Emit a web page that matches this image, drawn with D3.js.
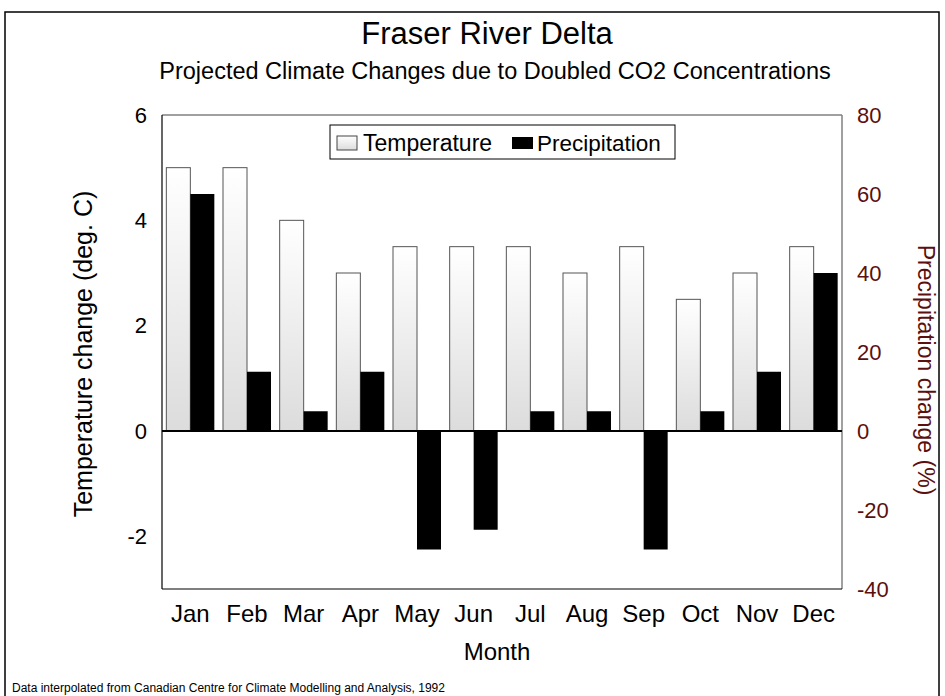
<!DOCTYPE html>
<html>
<head>
<meta charset="utf-8">
<script src="https://cdn.jsdelivr.net/npm/d3@7"></script>
<style>
  body { margin: 0; background: #fff; }
  text { font-family: "Liberation Sans", Arial, sans-serif; }
</style>
</head>
<body>
<div id="chart"></div>
<script>
// chart data
const months = ["Jan", "Feb", "Mar", "Apr", "May", "Jun", "Jul", "Aug", "Sep", "Oct", "Nov", "Dec"];
const temperature = [5, 5, 4, 3, 3.5, 3.5, 3.5, 3, 3.5, 2.5, 3, 3.5];
const precipitation = [60, 15, 5, 15, -30, -25, 5, 5, -30, 5, 15, 40];
const tempTicks = [-2, 0, 2, 4, 6];
const precipTicks = [-40, -20, 0, 20, 40, 60, 80];

const W = 945, H = 696;
const plot = {left: 162, right: 842, top: 115, bottom: 589};
const maroon = "#5c0f0f";
const fontFam = "Liberation Sans, Arial, sans-serif";

const svg = d3.select("#chart").append("svg")
    .attr("width", W)
    .attr("height", H);

// gradient for temperature bars
const grad = svg.append("defs").append("linearGradient")
    .attr("id", "tempGrad")
    .attr("x1", 0).attr("y1", 0).attr("x2", 0).attr("y2", 1);
grad.append("stop").attr("offset", "0%").attr("stop-color", "#ffffff");
grad.append("stop").attr("offset", "100%").attr("stop-color", "#dcdcdc");

// outer frame
svg.append("rect")
    .attr("x", 5).attr("y", 12)
    .attr("width", 934).attr("height", 700)
    .attr("fill", "none")
    .attr("stroke", "#000")
    .attr("stroke-width", 1.5);

//scales
const x = d3.scaleBand().domain(months).range([plot.left, plot.right]).paddingInner(0.153).paddingOuter(0.0765);
const yT = d3.scaleLinear().domain([-3, 6]).range([plot.bottom, plot.top]);
const yP = d3.scaleLinear().domain([-40, 80]).range([plot.bottom, plot.top]);
const bw = x.bandwidth() / 2;
const fmt = d => String(d); // plain hyphen for negatives

// plot border
svg.append("line").attr("x1", plot.left).attr("x2", plot.right).attr("y1", plot.top).attr("y2", plot.top)
    .attr("stroke", "#808080").attr("stroke-width", 1.5);
svg.append("line").attr("x1", plot.right).attr("x2", plot.right).attr("y1", plot.top).attr("y2", plot.bottom)
    .attr("stroke", "#808080").attr("stroke-width", 1.5);
svg.append("line").attr("x1", plot.left).attr("x2", plot.left).attr("y1", plot.top).attr("y2", plot.bottom)
    .attr("stroke", "#000").attr("stroke-width", 1.2);
svg.append("line").attr("x1", plot.left).attr("x2", plot.right).attr("y1", plot.bottom).attr("y2", plot.bottom)
    .attr("stroke", "#000").attr("stroke-width", 1.2);

// temperature bars
svg.selectAll(".temp")
    .data(temperature)
    .enter()
    .append("rect")
    .attr("class", "temp")
    .attr("x", (d, i) => x(months[i]))
    .attr("y", d => yT(Math.max(0, d)))
    .attr("width", bw)
    .attr("height", d => Math.abs(yT(d) - yT(0)))
    .attr("fill", "url(#tempGrad)")
    .attr("stroke", "#555")
    .attr("stroke-width", 1);

// precipitation bars
svg.selectAll(".precip")
    .data(precipitation)
    .enter()
    .append("rect")
    .attr("class", "precip")
    .attr("x", (d, i) => x(months[i]) + bw)
    .attr("y", d => yP(Math.max(0, d)))
    .attr("width", bw)
    .attr("height", d => Math.abs(yP(d) - yP(0)))
    .attr("fill", "#000");

// zero line
svg.append("line")
    .attr("x1", plot.left).attr("x2", plot.right)
    .attr("y1", yT(0)).attr("y2", yT(0))
    .attr("stroke", "#000").attr("stroke-width", 2);

// left axis
const leftAxis = svg.append("g")
    .attr("transform", "translate(" + plot.left + ",0)")
    .call(d3.axisLeft(yT).tickValues(tempTicks).tickFormat(fmt).tickSize(0).tickPadding(15));
leftAxis.select(".domain").remove();
leftAxis.selectAll("text").attr("font-size", 22).attr("fill", "#000").attr("font-family", fontFam);

// right axis
const rightAxis = svg.append("g")
    .attr("transform", "translate(" + plot.right + ",0)")
    .call(d3.axisRight(yP).tickValues(precipTicks).tickFormat(fmt).tickSize(0).tickPadding(15));
rightAxis.select(".domain").remove();
rightAxis.selectAll("text").attr("font-size", 22).attr("fill", maroon).attr("font-family", fontFam);

// month labels
const xAxis = svg.append("g")
    .attr("transform", "translate(0," + plot.bottom + ")")
    .call(d3.axisBottom(x).tickSize(0).tickPadding(16));
xAxis.select(".domain").remove();
xAxis.selectAll("text").attr("font-size", 24).attr("fill", "#000").attr("font-family", fontFam);

// titles
svg.append("text").attr("x", 487).attr("y", 44).attr("text-anchor", "middle")
    .attr("font-size", 31).text("Fraser River Delta");
svg.append("text").attr("x", 495).attr("y", 79).attr("text-anchor", "middle")
    .attr("font-size", 23.5).text("Projected Climate Changes due to Doubled CO2 Concentrations");
svg.append("text").attr("x", 497).attr("y", 660).attr("text-anchor", "middle")
    .attr("font-size", 24).text("Month");
svg.append("text").attr("transform", "translate(92,354) rotate(-90)").attr("text-anchor", "middle")
    .attr("font-size", 25).text("Temperature change (deg. C)");
svg.append("text").attr("transform", "translate(918,370) rotate(90)").attr("text-anchor", "middle")
    .attr("font-size", 23).attr("fill", maroon).text("Precipitation change (%)");
svg.append("text").attr("x", 12).attr("y", 692)
    .attr("font-size", 12).text("Data interpolated from Canadian Centre for Climate Modelling and Analysis, 1992");

// legend
const legend = svg.append("g");
legend.append("rect").attr("x", 330).attr("y", 125).attr("width", 345).attr("height", 34)
    .attr("fill", "#fff").attr("stroke", "#000").attr("stroke-width", 1);
legend.append("rect").attr("x", 337).attr("y", 136).attr("width", 20).attr("height", 14)
    .attr("fill", "url(#tempGrad)").attr("stroke", "#444");
legend.append("text").attr("x", 363).attr("y", 151).attr("font-size", 23).text("Temperature");
legend.append("rect").attr("x", 512).attr("y", 137).attr("width", 21).attr("height", 12)
    .attr("fill", "#000");
legend.append("text").attr("x", 537).attr("y", 151).attr("font-size", 22.5).text("Precipitation");

console.log("File Loaded!");
</script>
</body>
</html>
